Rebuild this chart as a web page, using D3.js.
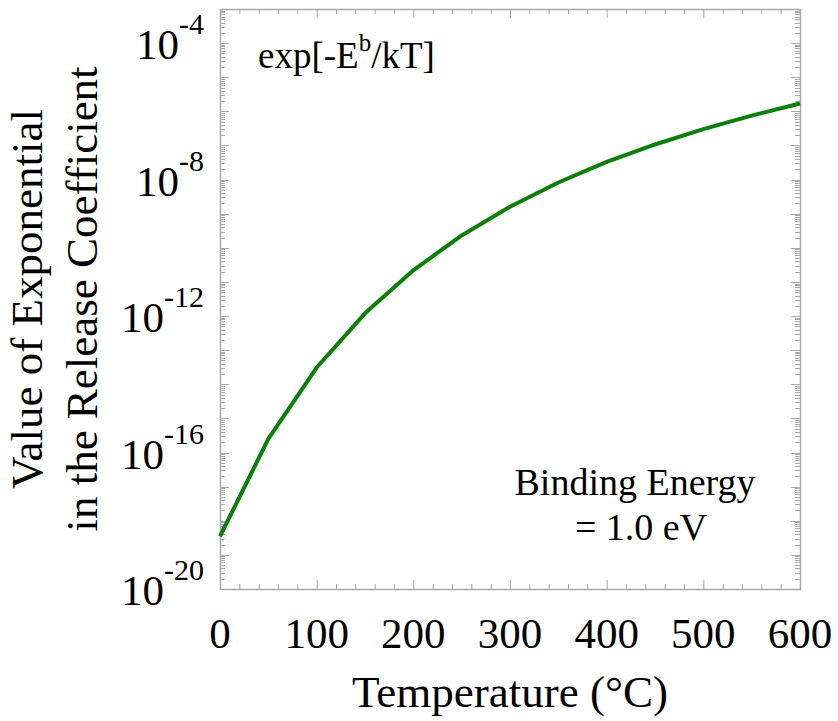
<!DOCTYPE html>
<html>
<head>
<meta charset="utf-8">
<script src="https://cdn.jsdelivr.net/npm/d3@7"></script>
<style>
  body { margin: 0; background: #fff; }
  text { font-family: "Liberation Serif", "Times New Roman", serif; fill: #000; }
</style>
</head>
<body>
<div id="chart"></div>
<script>
// data (temperature in °C, value of exp[-Eb/kT])
var temps = [0, 50, 100, 150, 200, 250, 300, 350, 400, 450, 500, 550, 600];
var values = [3.5e-19, 2.5e-16, 3.1e-14, 1.2e-12, 2.2e-11, 2.3e-10, 1.6e-9,
              8.2e-9, 3.3e-8, 1.07e-7, 3.0e-7, 7.5e-7, 1.7e-6];
var xTicks = [0, 100, 200, 300, 400, 500, 600];
var yLabelExps = [-20, -16, -12, -8, -4];

var svgWidth = 838, svgHeight = 721;
var margin = { top: 9, right: 38, bottom: 132, left: 220 };
var width = svgWidth - margin.left - margin.right;
var height = svgHeight - margin.top - margin.bottom;

var svg = d3.select("#chart").append("svg")
  .attr("width", svgWidth)
  .attr("height", svgHeight);

var chartGroup = svg.append("g")
  .attr("transform", `translate(${margin.left}, ${margin.top})`);

// scales
var xScale = d3.scaleLinear().domain([0, 600]).range([0, width]);
var yScale = d3.scaleLog().domain([1e-20, 1e-3]).range([height, 0]);

var tickColor = "#a8a8a8";

// minor / major ticks, drawn inward on all four sides
var xMinor = d3.range(0, 601, 20);
var yMinor = [];
for (var e = -20; e < -3; e++) {
  for (var m = 1; m < 10; m++) yMinor.push({ v: m * Math.pow(10, e), major: m === 1 });
}
yMinor.push({ v: 1e-3, major: true });

var ticks = chartGroup.append("g").attr("stroke", tickColor).attr("stroke-width", 1);

xMinor.forEach(function(t) {
  var len = (t % 100 === 0) ? 9 : 5;
  var x = xScale(t) + 0.5;
  ticks.append("line").attr("x1", x).attr("x2", x).attr("y1", height).attr("y2", height - len);
  ticks.append("line").attr("x1", x).attr("x2", x).attr("y1", 0).attr("y2", len);
});

yMinor.forEach(function(t) {
  var len = t.major ? 9 : 5;
  var y = Math.round(yScale(t.v)) + 0.5;
  ticks.append("line").attr("x1", 0).attr("x2", len).attr("y1", y).attr("y2", y);
  ticks.append("line").attr("x1", width).attr("x2", width - len).attr("y1", y).attr("y2", y);
});

// frame
chartGroup.append("rect")
  .attr("x", 0.5).attr("y", 0.5)
  .attr("width", width).attr("height", height)
  .attr("fill", "none")
  .attr("stroke", tickColor)
  .attr("stroke-width", 1.5);

// x tick labels
chartGroup.selectAll(".xlab")
  .data(xTicks)
  .enter()
  .append("text")
  .attr("class", "xlab")
  .attr("x", d => xScale(d))
  .attr("y", height + 59)
  .attr("text-anchor", "middle")
  .attr("font-size", "43px")
  .text(d => d);

// y tick labels (10^n)
var ylab = chartGroup.selectAll(".ylab")
  .data(yLabelExps)
  .enter()
  .append("text")
  .attr("class", "ylab")
  .attr("x", -16)
  .attr("y", d => yScale(Math.pow(10, d)) + 16)
  .attr("text-anchor", "end")
  .attr("font-size", "43px");
ylab.append("tspan").text("10");
ylab.append("tspan").attr("dy", -25).attr("font-size", "30px").text(d => "-" + Math.abs(d));

// line
var line = d3.line()
  .x((d, i) => xScale(temps[i]))
  .y(d => yScale(d));

chartGroup.append("path")
  .datum(values)
  .attr("d", line)
  .attr("fill", "none")
  .attr("stroke", "#0a7f0a")
  .attr("stroke-width", 4)
  .attr("stroke-linejoin", "round");

// annotations
var expText = chartGroup.append("text")
  .attr("x", 38)
  .attr("y", 59)
  .attr("font-size", "37px");
expText.append("tspan").text("exp[-E");
expText.append("tspan").attr("dy", -17).attr("font-size", "25px").text("b");
expText.append("tspan").attr("dy", 17).text("/kT]");

chartGroup.append("text")
  .attr("x", 415)
  .attr("y", 486)
  .attr("text-anchor", "middle")
  .attr("font-size", "38px")
  .text("Binding Energy");

chartGroup.append("text")
  .attr("x", 421)
  .attr("y", 531)
  .attr("text-anchor", "middle")
  .attr("font-size", "38px")
  .text("= 1.0 eV");

// axis titles
svg.append("text")
  .attr("x", margin.left + width / 2)
  .attr("y", 707)
  .attr("text-anchor", "middle")
  .attr("font-size", "45px")
  .text("Temperature (\u00B0C)");

var yTitle = svg.append("text")
  .attr("transform", `translate(0, ${margin.top + height / 2}) rotate(-90)`)
  .attr("text-anchor", "middle")
  .attr("font-size", "45px");
yTitle.append("tspan").attr("x", 0).attr("y", 42).text("Value of Exponential");
yTitle.append("tspan").attr("x", 0).attr("y", 97).text("in the Release Coefficient");
</script>
</body>
</html>
